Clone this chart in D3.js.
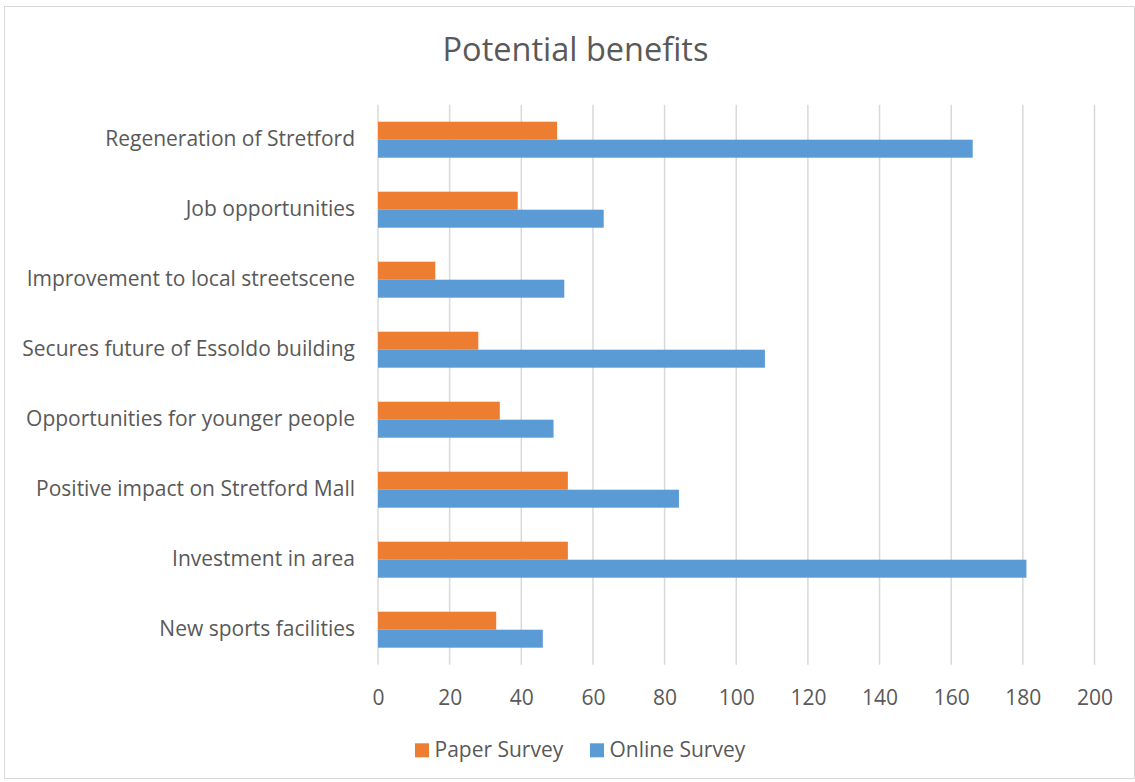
<!DOCTYPE html>
<html>
<head>
<meta charset="utf-8">
<script src="https://cdn.jsdelivr.net/npm/d3@7"></script>
<style>
  html, body { margin: 0; padding: 0; background: #fff; }
  svg { display: block; }
  text { font-family: "Open Sans", "Noto Sans", sans-serif; fill: #595959; }
</style>
</head>
<body>
<svg id="chart" width="1135" height="782"></svg>
<script>
const categories = [
  "Regeneration of Stretford",
  "Job opportunities",
  "Improvement to local streetscene",
  "Secures future of Essoldo building",
  "Opportunities for younger people",
  "Positive impact on Stretford Mall",
  "Investment in area",
  "New sports facilities"
];
const seriesNames = ["Paper Survey", "Online Survey"];
const paperSurvey  = [50, 39, 16, 28, 34, 53, 53, 33];
const onlineSurvey = [166, 63, 52, 108, 49, 84, 181, 46];
const xTicks = [0, 20, 40, 60, 80, 100, 120, 140, 160, 180, 200];
const colors = ["#ED7D31", "#5B9BD5"];

const svg = d3.select("#chart");
const W = 1135, H = 782;

// chart border
svg.append("rect")
  .attr("x", 4.5).attr("y", 6.5)
  .attr("width", W - 5).attr("height", H - 10)
  .attr("fill", "#fff").attr("stroke", "#D9D9D9").attr("stroke-width", 1);

const plotLeft = 378, plotRight = 1094.5, plotTop = 104.7, plotBottom = 664.7;

const x = d3.scaleLinear().domain([0, 200]).range([plotLeft, plotRight]);
const y = d3.scaleBand().domain(categories).range([plotTop, plotBottom]).paddingInner(0).paddingOuter(0);
const bw = y.bandwidth();
const y1 = d3.scaleBand().domain(seriesNames).range([(bw - 36) / 2, (bw + 36) / 2]).padding(0);

// title
svg.append("text")
  .attr("x", 575.5).attr("y", 61)
  .attr("text-anchor", "middle")
  .style("font-size", "32.5px")
  .text("Potential benefits");

// gridlines
svg.append("g").selectAll("line").data(xTicks).join("line")
  .attr("x1", d => x(d)).attr("x2", d => x(d))
  .attr("y1", plotTop).attr("y2", plotBottom)
  .attr("stroke", "#D9D9D9").attr("stroke-width", 1.5);

// x axis labels
const xAxis = d3.axisBottom(x).tickValues(xTicks).tickSize(0).tickPadding(0);
const gx = svg.append("g").attr("transform", `translate(0, ${plotBottom + 40.5})`).call(xAxis);
gx.select(".domain").remove();
gx.selectAll("text").attr("dy", 0).style("font-size", "21px").style("font-family", '"Open Sans", sans-serif').attr("fill", "#595959");

// y axis labels
const yAxis = d3.axisLeft(y).tickSize(0).tickPadding(23);
const gy = svg.append("g").attr("transform", `translate(${plotLeft}, 0)`).call(yAxis);
gy.select(".domain").remove();
gy.selectAll("text").style("font-size", "21px").style("font-family", '"Open Sans", sans-serif').attr("fill", "#595959");

// bars
const rows = categories.map((c, i) => ({ cat: c, vals: [paperSurvey[i], onlineSurvey[i]] }));
const groups = svg.append("g").selectAll("g").data(rows).join("g")
  .attr("transform", d => `translate(0, ${y(d.cat)})`);
groups.selectAll("rect").data(d => d.vals.map((v, j) => ({ s: seriesNames[j], v, j }))).join("rect")
  .attr("x", x(0))
  .attr("y", d => y1(d.s))
  .attr("width", d => x(d.v) - x(0))
  .attr("height", y1.bandwidth())
  .attr("fill", d => colors[d.j]);

// legend
const legendItems = [
  { name: seriesNames[0], color: colors[0], x: 415 },
  { name: seriesNames[1], color: colors[1], x: 590 }
];
const lg = svg.append("g").selectAll("g").data(legendItems).join("g")
  .attr("transform", d => `translate(${d.x}, 743.3)`);
lg.append("rect").attr("width", 14).attr("height", 14).attr("fill", d => d.color);
lg.append("text").attr("x", 19.5).attr("y", 14).style("font-size", "21px").text(d => d.name);
</script>
</body>
</html>
